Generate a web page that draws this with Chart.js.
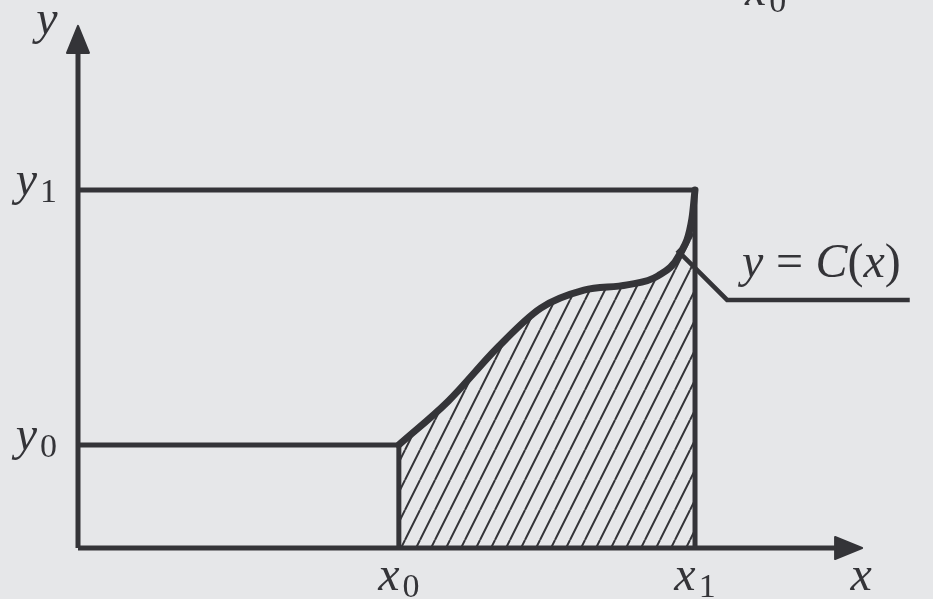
<!DOCTYPE html>
<html>
<head>
<meta charset="utf-8">
<script src="https://cdn.jsdelivr.net/npm/chart.js@4.4.1/dist/chart.umd.min.js"></script>
<style>
  html, body { margin: 0; padding: 0; background: #e6e7e9; overflow: hidden; }
  canvas { display: block; }
</style>
</head>
<body>
<canvas id="diagrama" width="933" height="599"></canvas>
<script>
// values
const x0 = 5.2, x1 = 10;
const y0 = 2.88, y1 = 10;

const curveX = [5.2, 6.0, 6.8, 7.5, 8.2, 8.9, 9.4, 9.75, 9.95, 10];
const curveY = [2.88, 4.1, 5.6, 6.7, 7.2, 7.35, 7.6, 8.2, 9.2, 10];

const leaderX = [9.71, 10.52, 13.48];
const leaderY = [8.32, 6.93, 6.93];

const xTicks = [x0, x1];
const xTickLabels = ['x_0', 'x_1'];
const yTicks = [y0, y1];
const yTickLabels = ['y_0', 'y_1'];

const axisXEnd = 12.27;
const axisYEnd = 13.83;

const curveLabel = 'y = C(x)';
const topLabel = 'x_0';
const topLabelAt = [10.81, 15.17];

const ink = '#343438';

const pts = (xs, ys) => xs.map((x, i) => ({ x: x, y: ys[i] }));

function hatch() {
    const c = document.createElement('canvas');
    c.width = 15;
    c.height = 30;
    const g = c.getContext('2d');
    g.strokeStyle = ink;
    g.lineWidth = 2;
    g.beginPath();
    g.moveTo(0, 30); g.lineTo(15, 0);
    g.moveTo(-15, 30); g.lineTo(0, 0);
    g.moveTo(15, 30); g.lineTo(30, 0);
    g.stroke();
    return g.createPattern(c, 'repeat');
}

// turn "y_1" / "y = C(x)" into pieces: italic letters, upright symbols, subscripts
function parse(str) {
    const out = [];
    for (let i = 0; i < str.length; i++) {
        const ch = str[i];
        if (ch === '_') { out.push({ s: str[++i], k: 'sub' }); }
        else if (ch === ' ') { out.push({ s: ' ', k: 'sp' }); }
        else if (/[a-zA-Z]/.test(ch)) { out.push({ s: ch, k: 'i' }); }
        else { out.push({ s: ch, k: 'r' }); }
    }
    return out;
}

const MAIN = 48, SUB = 34;
const FAM = '"Liberation Serif", "DejaVu Serif", serif';
function fontOf(k) {
    if (k === 'i') return 'italic ' + MAIN + 'px ' + FAM;
    if (k === 'sub') return SUB + 'px ' + FAM;
    return MAIN + 'px ' + FAM;
}
function widthOf(ctx, p) {
    if (p.k === 'sp') return MAIN * 0.26;
    ctx.font = fontOf(p.k);
    return ctx.measureText(p.s).width + (p.k === 'sub' ? 3 : 0);
}
function drawMath(ctx, str, px, py, align) {
    const parts = parse(str);
    let total = 0;
    parts.forEach(p => total += widthOf(ctx, p));
    let x = px;
    if (align === 'center') x = px - total / 2;
    if (align === 'right') x = px - total;
    ctx.fillStyle = ink;
    ctx.textBaseline = 'alphabetic';
    ctx.textAlign = 'left';
    parts.forEach(p => {
        const w = widthOf(ctx, p);
        if (p.k !== 'sp') {
            ctx.font = fontOf(p.k);
            if (p.k === 'sub') ctx.fillText(p.s, x + 3, py + 7);
            else ctx.fillText(p.s, x, py);
        }
        x += w;
    });
}

const arrows = {
    id: 'arrows',
    afterDatasetsDraw(chart) {
        const ctx = chart.ctx;
        chart.data.datasets.forEach((ds, i) => {
            if (!ds.arrow) return;
            const els = chart.getDatasetMeta(i).data;
            const a = els[els.length - 2], b = els[els.length - 1];
            const dx = b.x - a.x, dy = b.y - a.y;
            const len = Math.hypot(dx, dy);
            const ux = dx / len, uy = dy / len;
            const L = 27, H = 11;
            ctx.save();
            ctx.fillStyle = ink;
            ctx.strokeStyle = ink;
            ctx.lineWidth = 2;
            ctx.lineJoin = 'round';
            ctx.beginPath();
            ctx.moveTo(b.x + ux * L, b.y + uy * L);
            ctx.lineTo(b.x - uy * H, b.y + ux * H);
            ctx.lineTo(b.x + uy * H, b.y - ux * H);
            ctx.closePath();
            ctx.fill();
            ctx.stroke();
            ctx.restore();
        });
    }
};

const labels = {
    id: 'labels',
    afterDatasetsDraw(chart) {
        const ctx = chart.ctx;
        const sx = chart.scales.x, sy = chart.scales.y;
        const ox = sx.getPixelForValue(0), oy = sy.getPixelForValue(0);
        ctx.save();
        xTicks.forEach((v, i) => drawMath(ctx, xTickLabels[i], sx.getPixelForValue(v), oy + 42, 'center'));
        yTicks.forEach((v, i) => drawMath(ctx, yTickLabels[i], ox - 21, sy.getPixelForValue(v) + 5, 'right'));
        drawMath(ctx, 'x', sx.getPixelForValue(axisXEnd) + 26, oy + 42, 'center');
        drawMath(ctx, 'y', ox - 31, sy.getPixelForValue(axisYEnd) - 19, 'center');
        drawMath(ctx, curveLabel, sx.getPixelForValue(leaderX[1]) + 15, sy.getPixelForValue(leaderY[1]) - 23, 'left');
        drawMath(ctx, topLabel, sx.getPixelForValue(topLabelAt[0]), sy.getPixelForValue(topLabelAt[1]), 'left');
        ctx.restore();
    }
};

const line = (data, width) => ({
    data: data,
    showLine: true,
    borderColor: ink,
    borderWidth: width,
    pointRadius: 0,
    tension: 0,
    fill: false,
    borderJoinStyle: 'miter',
    borderCapStyle: 'butt'
});

const ctx = document.getElementById('diagrama').getContext('2d');
const chart = new Chart(ctx, {
    type: 'scatter',
    data: {
        datasets: [
            {
                data: pts(curveX, curveY),
                showLine: true,
                borderColor: ink,
                borderWidth: 7,
                pointRadius: 0,
                cubicInterpolationMode: 'monotone',
                fill: 'origin',
                backgroundColor: hatch(),
                borderCapStyle: 'round',
                borderJoinStyle: 'round'
            },
            line(pts([0, x1, x1], [y1, y1, 0]), 5),
            line(pts([0, x0, x0], [y0, y0, 0]), 5),
            line(pts(leaderX, leaderY), 4.5),
            Object.assign(line(pts([0, axisXEnd], [0, 0]), 5), { arrow: true }),
            Object.assign(line(pts([0, 0], [0, axisYEnd]), 5), { arrow: true })
        ]
    },
    options: {
        responsive: false,
        animation: false,
        devicePixelRatio: 1,
        events: [],
        layout: { padding: 0 },
        plugins: {
            legend: { display: false },
            tooltip: { enabled: false }
        },
        scales: {
            x: { type: 'linear', min: -1.2642, max: 13.857, display: false },
            y: { type: 'linear', min: -1.4246, max: 15.307, display: false }
        }
    },
    plugins: [arrows, labels]
});
</script>
</body>
</html>
